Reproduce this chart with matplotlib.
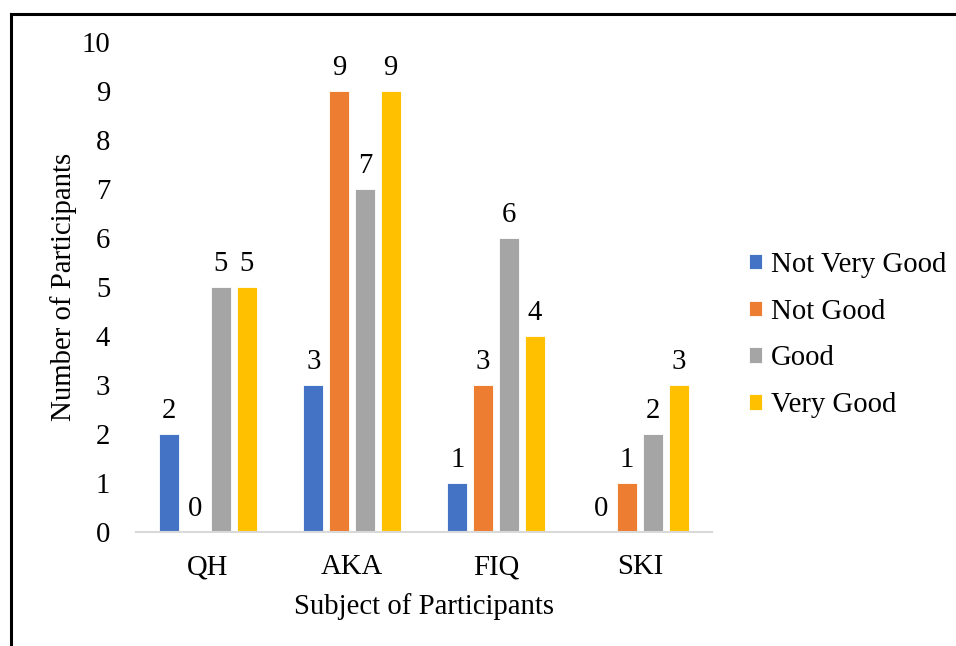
import matplotlib
matplotlib.use("Agg")
import matplotlib.pyplot as plt
import numpy as np
from matplotlib.lines import Line2D

plt.rcParams['font.family'] = ['Liberation Serif', 'DejaVu Serif']

subjects = ["QH", "AKA", "FIQ", "SKI"]
series_names = ["Not Very Good", "Not Good", "Good", "Very Good"]
not_very_good = [2, 3, 1, 0]
not_good = [0, 9, 3, 1]
good = [5, 7, 6, 2]
very_good = [5, 9, 4, 3]
colors = ["#4472C4", "#ED7D31", "#A5A5A5", "#FFC000"]
yticks = list(range(0, 11))

FS = 20.7

fig = plt.figure(figsize=(9.56, 6.46), dpi=100)
ax = fig.add_axes([136 / 956, 1 - 532 / 646, (712 - 136) / 956, (532 - 42) / 646])

x = np.arange(len(subjects))
pitch = 0.179
width = 0.138
all_series = [not_very_good, not_good, good, very_good]
for i, (vals, name, c) in enumerate(zip(all_series, series_names, colors)):
    pos = x + (i - 1.5) * pitch
    ax.bar(pos, vals, width, color=c, label=name, edgecolor="white", linewidth=0.6)
    for xp, v in zip(pos, vals):
        ax.text(xp, v + 0.2, str(v), ha="center", va="bottom", fontsize=FS)

ax.set_xlim(-0.5, len(subjects) - 0.5)
ax.set_ylim(0, 10)
ax.set_yticks(yticks)
ax.set_xticks(x)
ax.set_xticklabels(subjects)
ax.tick_params(axis="both", length=0, labelsize=FS)
ax.tick_params(axis="y", pad=18.5)
ax.tick_params(axis="x", pad=16)
for s in ["top", "right", "left"]:
    ax.spines[s].set_visible(False)
ax.spines["bottom"].set_color("#D9D9D9")
ax.spines["bottom"].set_linewidth(1.5)

ax.set_ylabel("Number of Participants", fontsize=FS, labelpad=3)
ax.set_xlabel("Subject of Participants", fontsize=FS, labelpad=9)

fig.legend(*ax.get_legend_handles_labels(), loc="center left",
           bbox_to_anchor=(749 / 956, 1 - 335 / 646), frameon=False,
           fontsize=FS, handlelength=0.45, handleheight=0.45, handletextpad=0.3,
           labelspacing=0.72, borderpad=0, borderaxespad=0)

# figure frame (top and left edges)
fig.add_artist(Line2D([10.5 / 956, 1], [1 - 13.5 / 646, 1 - 13.5 / 646],
                      color="black", linewidth=2.2, transform=fig.transFigure))
fig.add_artist(Line2D([10.5 / 956, 10.5 / 956], [0, 1 - 13.5 / 646],
                      color="black", linewidth=2.2, transform=fig.transFigure))

fig.savefig("out.png", dpi=100, facecolor="white")
